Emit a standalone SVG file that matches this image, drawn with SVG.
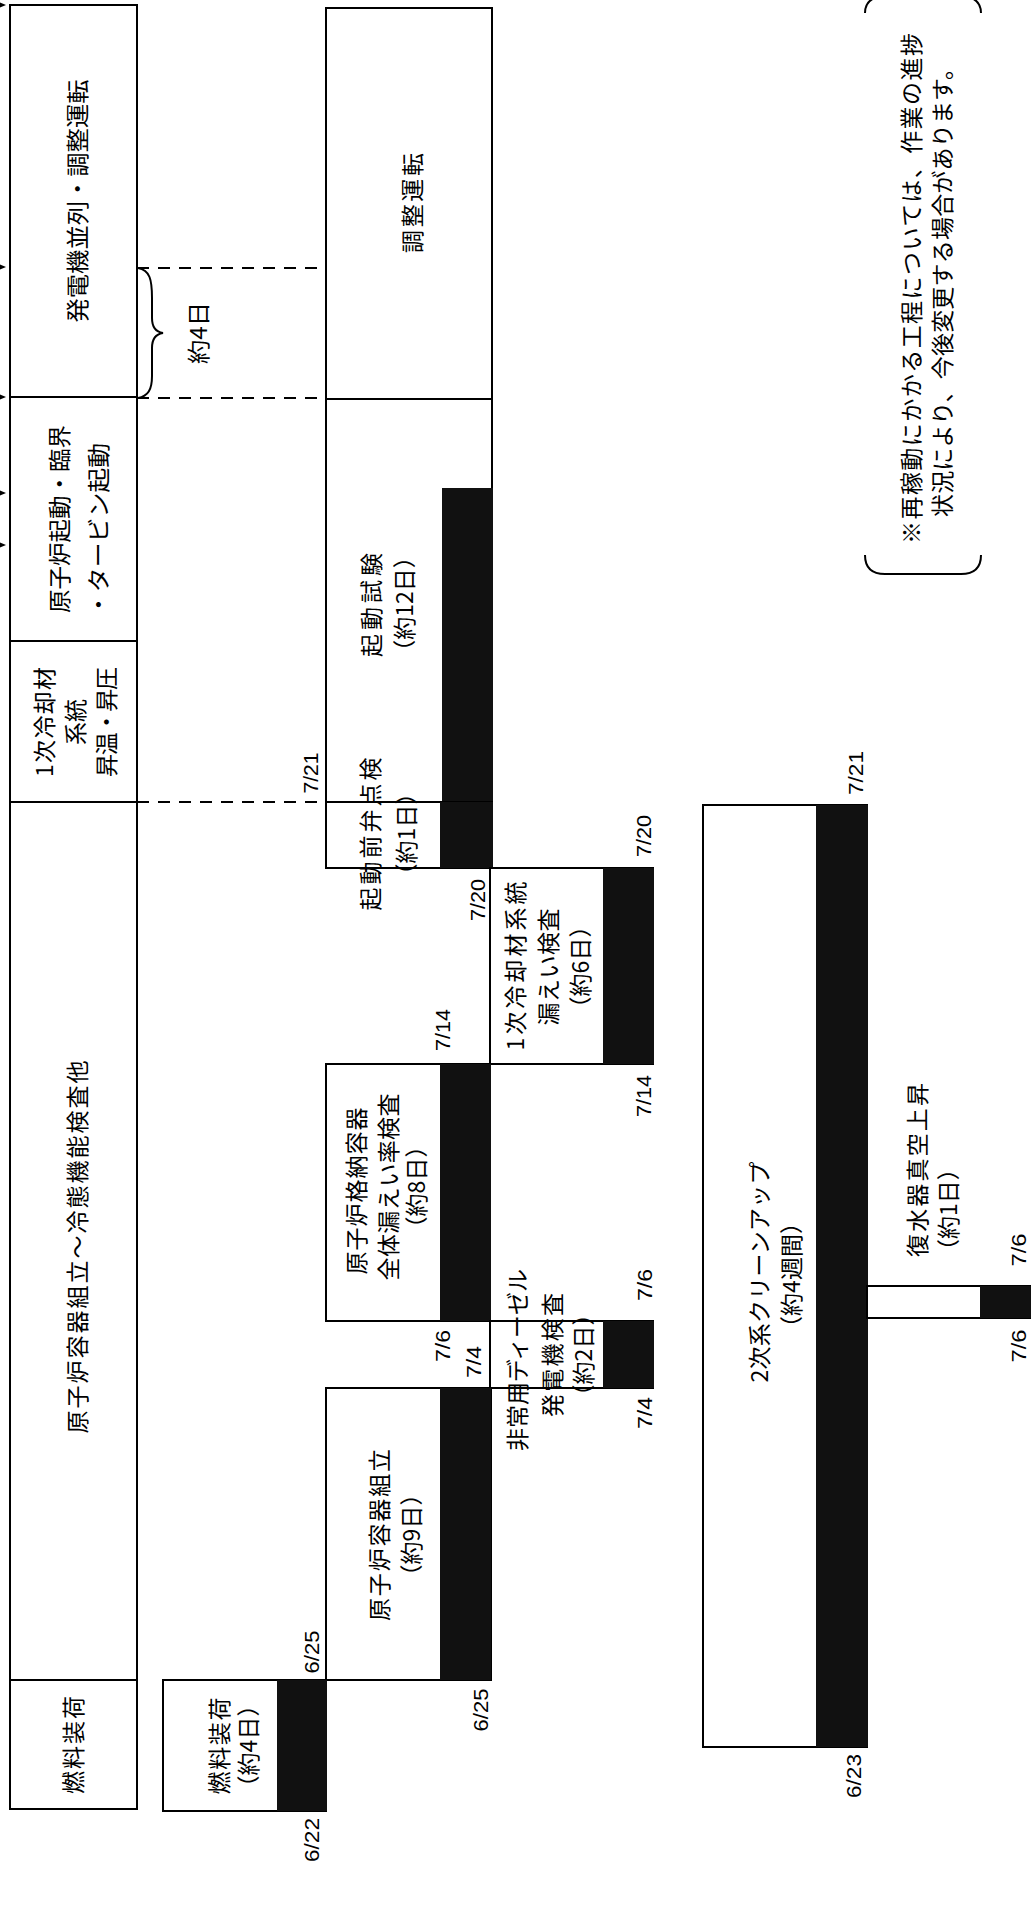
<svg xmlns="http://www.w3.org/2000/svg" width="1034" height="1915" viewBox="0 0 1034 1915">
<style>
.box{fill:#fff;stroke:#000;stroke-width:2}
.bar{fill:#111}
.jp{font-family:"Noto Sans CJK JP","Noto Sans CJK SC",sans-serif;font-size:23px;fill:#000;text-anchor:middle;dominant-baseline:central}
.st{text-anchor:start}
.d{font-family:"Liberation Sans",Arial,sans-serif;font-size:20px;fill:#000;text-anchor:middle;dominant-baseline:central}
.dash{stroke:#000;stroke-width:2;stroke-dasharray:12 9;fill:none}
.ln{stroke:#000;stroke-width:2;fill:none}
.tick{fill:#000}
</style>
<rect width="1034" height="1915" fill="#fff"/>

<g id="edge-ticks">
<polygon class="tick" points="0,2.5 6,5 0,7.5"/>
<polygon class="tick" points="0,264.5 6,267 0,269.5"/>
<polygon class="tick" points="0,394.5 6,397 0,399.5"/>
<polygon class="tick" points="0,490.5 6,493 0,495.5"/>
<polygon class="tick" points="0,542.5 6,545 0,547.5"/>
</g>

<g id="connectors">
<line class="dash" x1="137" y1="268" x2="326" y2="268"/>
<line class="dash" x1="137" y1="398" x2="326" y2="398"/>
<line class="dash" x1="137" y1="802" x2="326" y2="802"/>
<path class="ln" d="M138,268 C150,270 152,280 152,298 L152,318 C152,328 156,332 163,333 C156,334 152,338 152,348 L152,376 C152,390 148,396 138,398"/>
<text class="jp" transform="translate(197 333) rotate(-90)" font-size="21" textLength="62" lengthAdjust="spacingAndGlyphs">約4日</text>
</g>

<g id="n-hatsuden">
<rect class="box" x="10" y="5" width="127" height="392"/>
<text class="jp" transform="translate(76 201) rotate(-90)" textLength="243" lengthAdjust="spacingAndGlyphs">発電機並列・調整運転</text>
</g>

<g id="n-genshiro-kido">
<rect class="box" x="10" y="397" width="127" height="244"/>
<text class="jp" transform="translate(58 519) rotate(-90)" textLength="188" lengthAdjust="spacingAndGlyphs">原子炉起動・臨界</text>
<text class="jp" transform="translate(97 530) rotate(-90)" textLength="174" lengthAdjust="spacingAndGlyphs">・タービン起動</text>
</g>

<g id="n-ichiji-shoon">
<rect class="box" x="10" y="641" width="127" height="161"/>
<text class="jp" transform="translate(43 722) rotate(-90)" textLength="110" lengthAdjust="spacing">1次冷却材</text>
<text class="jp" transform="translate(74 722) rotate(-90)">系統</text>
<text class="jp" transform="translate(105 722) rotate(-90)" textLength="110" lengthAdjust="spacing">昇温・昇圧</text>
</g>

<g id="n-kumitate-reitai">
<rect class="box" x="10" y="802" width="127" height="878"/>
<text class="jp" transform="translate(76 1247) rotate(-90)" textLength="373" lengthAdjust="spacing">原子炉容器組立～冷態機能検査他</text>
</g>

<g id="n-nenryo">
<rect class="box" x="10" y="1680" width="127" height="129"/>
<text class="jp" transform="translate(72 1745) rotate(-90)" textLength="98" lengthAdjust="spacing">燃料装荷</text>
</g>

<g id="n-chosei">
<rect class="box" x="326" y="8" width="166" height="391"/>
<text class="jp" transform="translate(411 203) rotate(-90)" textLength="100" lengthAdjust="spacing">調整運転</text>
</g>

<g id="n-kido-shiken">
<rect class="box" x="326" y="399" width="166" height="403"/>
<rect class="bar" x="442" y="488" width="51" height="314"/>
<text class="jp" transform="translate(370 605) rotate(-90)" textLength="104" lengthAdjust="spacing">起動試験</text>
<text class="jp" transform="translate(403 604) rotate(-90)">（約12日）</text>
</g>

<g id="n-ben-tenken">
<rect class="box" x="326" y="802" width="166" height="66"/>
<rect class="bar" x="440" y="802" width="53" height="66"/>
<text class="jp" transform="translate(369 834) rotate(-90)" textLength="153" lengthAdjust="spacing">起動前弁点検</text>
<text class="jp" transform="translate(405 834) rotate(-90)">（約1日）</text>
</g>

<g id="n-ichiji-more">
<rect class="box" x="490" y="868" width="163" height="196"/>
<rect class="bar" x="603" y="868" width="51" height="196"/>
<text class="jp" transform="translate(514 966) rotate(-90)" textLength="169" lengthAdjust="spacing">1次冷却材系統</text>
<text class="jp" transform="translate(547 967) rotate(-90)" textLength="117" lengthAdjust="spacing">漏えい検査</text>
<text class="jp" transform="translate(579 967) rotate(-90)">（約6日）</text>
</g>

<g id="n-kakuno">
<rect class="box" x="326" y="1064" width="164" height="257"/>
<rect class="bar" x="440" y="1064" width="51" height="257"/>
<text class="jp" transform="translate(355 1191) rotate(-90)" textLength="167" lengthAdjust="spacing">原子炉格納容器</text>
<text class="jp" transform="translate(387 1187) rotate(-90)" textLength="187" lengthAdjust="spacing">全体漏えい率検査</text>
<text class="jp" transform="translate(415 1187) rotate(-90)">（約8日）</text>
</g>

<g id="n-diesel">
<rect class="box" x="490" y="1321" width="163" height="67"/>
<rect class="bar" x="603" y="1321" width="51" height="67"/>
<text class="jp" transform="translate(516 1360) rotate(-90)" textLength="182" lengthAdjust="spacing">非常用ディーゼル</text>
<text class="jp" transform="translate(551 1355) rotate(-90)" textLength="124" lengthAdjust="spacing">発電機検査</text>
<text class="jp" transform="translate(582 1355) rotate(-90)">（約2日）</text>
</g>

<g id="n-yoki-kumitate">
<rect class="box" x="326" y="1388" width="165" height="292"/>
<rect class="bar" x="440" y="1388" width="51" height="292"/>
<text class="jp" transform="translate(378 1535) rotate(-90)" textLength="172" lengthAdjust="spacing">原子炉容器組立</text>
<text class="jp" transform="translate(410 1535) rotate(-90)">（約9日）</text>
</g>

<g id="n-nenryo-4">
<rect class="box" x="163" y="1680" width="163" height="131"/>
<rect class="bar" x="277" y="1680" width="50" height="131"/>
<text class="jp" transform="translate(218 1746) rotate(-90)" textLength="97" lengthAdjust="spacing">燃料装荷</text>
<text class="jp" transform="translate(247 1746) rotate(-90)">（約4日）</text>
</g>

<g id="n-niji-cleanup">
<rect class="box" x="703" y="805" width="164" height="942"/>
<rect class="bar" x="816" y="805" width="52" height="942"/>
<text class="jp" transform="translate(758 1272) rotate(-90)" textLength="221" lengthAdjust="spacing">2次系クリーンアップ</text>
<text class="jp" transform="translate(790 1275) rotate(-90)">（約4週間）</text>
</g>

<g id="n-fukusuiki">
<rect class="box" x="867" y="1286" width="163" height="32"/>
<rect class="bar" x="980" y="1286" width="51" height="32"/>
<text class="jp st" transform="translate(916 1257) rotate(-90)" textLength="174" lengthAdjust="spacing">復水器真空上昇</text>
<text class="jp st" transform="translate(947 1262) rotate(-90)">（約1日）</text>
</g>

<g id="dates">
<text class="d" transform="translate(311 773) rotate(-90)" textLength="41" lengthAdjust="spacingAndGlyphs">7/21</text>
<text class="d" transform="translate(478 900) rotate(-90)" textLength="42" lengthAdjust="spacingAndGlyphs">7/20</text>
<text class="d" transform="translate(644 836) rotate(-90)" textLength="42" lengthAdjust="spacingAndGlyphs">7/20</text>
<text class="d" transform="translate(443 1030) rotate(-90)" textLength="42" lengthAdjust="spacingAndGlyphs">7/14</text>
<text class="d" transform="translate(644 1096) rotate(-90)" textLength="42" lengthAdjust="spacingAndGlyphs">7/14</text>
<text class="d" transform="translate(443 1346) rotate(-90)" textLength="32" lengthAdjust="spacingAndGlyphs">7/6</text>
<text class="d" transform="translate(474 1362) rotate(-90)" textLength="32" lengthAdjust="spacingAndGlyphs">7/4</text>
<text class="d" transform="translate(645 1285) rotate(-90)" textLength="32" lengthAdjust="spacingAndGlyphs">7/6</text>
<text class="d" transform="translate(645 1413) rotate(-90)" textLength="32" lengthAdjust="spacingAndGlyphs">7/4</text>
<text class="d" transform="translate(312 1652) rotate(-90)" textLength="43" lengthAdjust="spacingAndGlyphs">6/25</text>
<text class="d" transform="translate(481 1710) rotate(-90)" textLength="43" lengthAdjust="spacingAndGlyphs">6/25</text>
<text class="d" transform="translate(312 1840) rotate(-90)" textLength="44" lengthAdjust="spacingAndGlyphs">6/22</text>
<text class="d" transform="translate(856 773) rotate(-90)" textLength="44" lengthAdjust="spacingAndGlyphs">7/21</text>
<text class="d" transform="translate(854 1776) rotate(-90)" textLength="44" lengthAdjust="spacingAndGlyphs">6/23</text>
<text class="d" transform="translate(1019 1250) rotate(-90)" textLength="33" lengthAdjust="spacingAndGlyphs">7/6</text>
<text class="d" transform="translate(1019 1346) rotate(-90)" textLength="33" lengthAdjust="spacingAndGlyphs">7/6</text>
</g>

<g id="note">
<path class="ln" d="M865,13 Q865,0 878,-3 M981,13 Q981,0 968,-3"/>
<path class="ln" d="M865,555 Q865,574 885,574 L961,574 Q981,574 981,555"/>
<text class="jp st" transform="translate(910 544) rotate(-90)" textLength="511" lengthAdjust="spacing">※再稼動にかかる工程については、作業の進捗</text>
<text class="jp st" transform="translate(941 517) rotate(-90)" textLength="460" lengthAdjust="spacing">状況により、今後変更する場合があります。</text>
</g>
</svg>
